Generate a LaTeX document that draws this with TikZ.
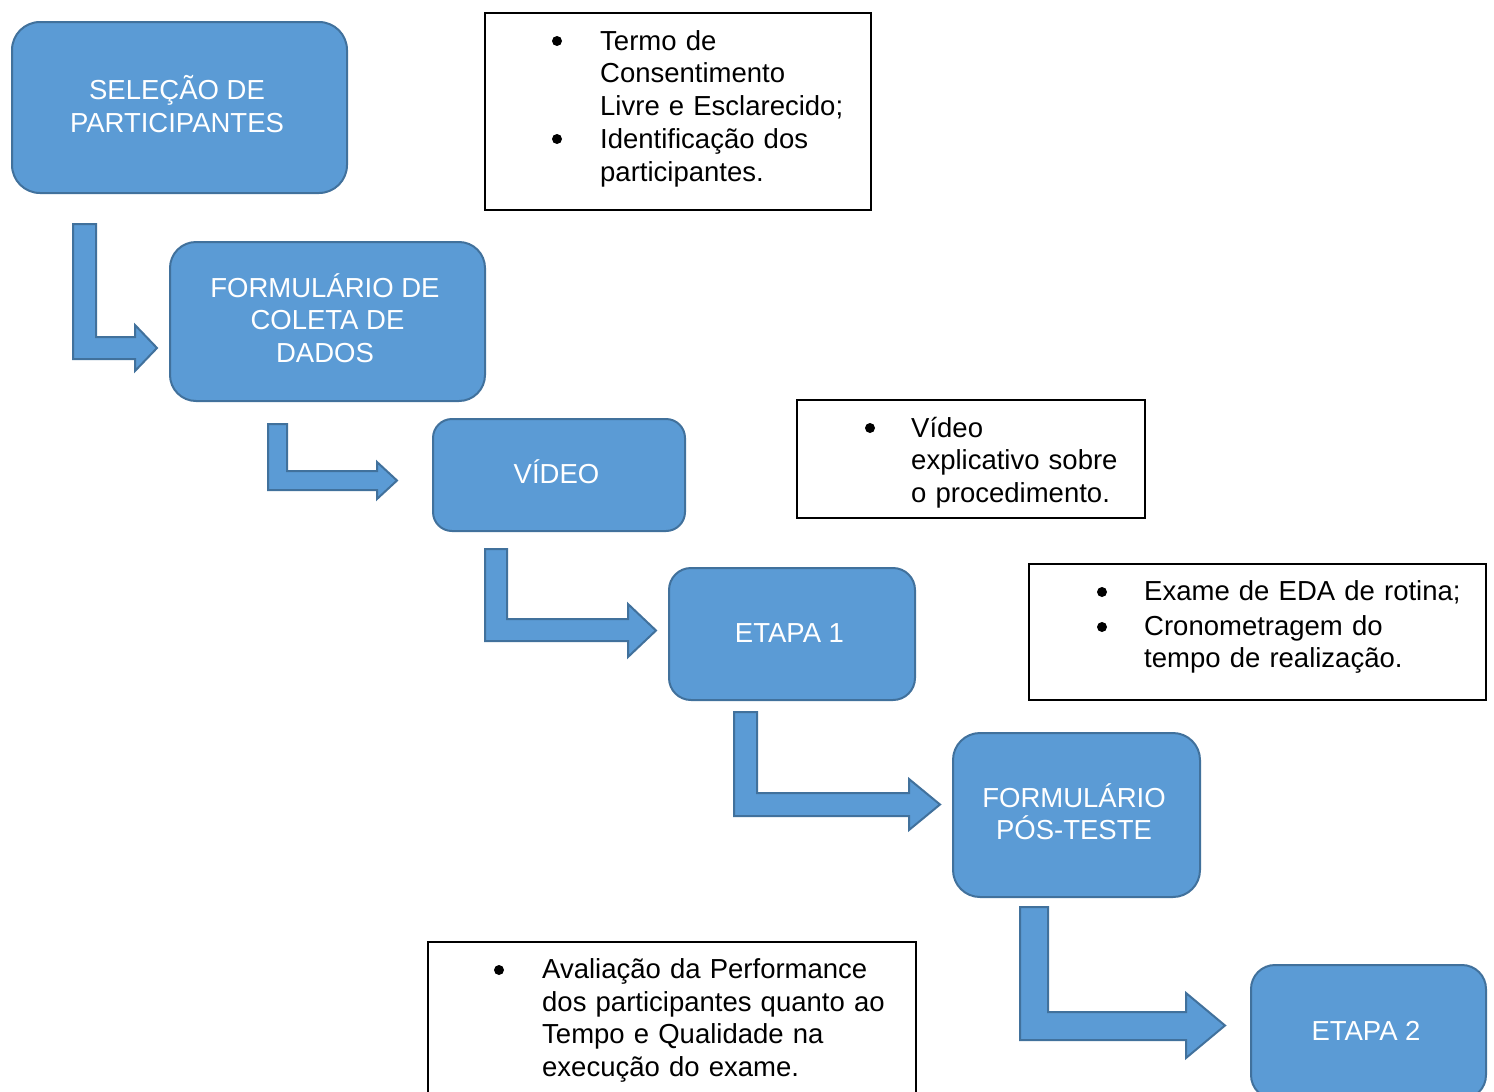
\documentclass[tikz,border=0pt]{standalone}
\usepackage{fontspec}
\setmainfont{Liberation Sans}
\definecolor{boxfill}{HTML}{5B9BD5}
\definecolor{boxline}{HTML}{41719C}
\tikzset{
  stage/.style={draw=boxline, fill=boxfill, line width=2pt, rounded corners=#1,
    text=white, align=center, inner sep=0pt, font=\fontsize{27.5}{32.5}\selectfont},
  stage/.default=26,
  notebox/.style={draw=black, line width=1.1pt, fill=white, inner sep=0pt},
  itemtext/.style={anchor=base west, inner sep=0pt, text width=420pt, align=left,
    font=\fontsize{27.5}{32.5}\selectfont},
  dot/.style={circle, fill=black, inner sep=0pt, minimum size=10pt},
  bent/.style={draw=boxline, fill=boxfill, line width=2pt, line join=miter},
}
% one line of text in a stage box, with Word-like line metrics
\newcommand\stline[1]{\rule[-7.75pt]{0pt}{32.4pt}#1\hspace*{5pt}}
% #1 xl, #2 xr, #3 ytop, #4 bar top, #5 bar bottom, #6 head base, #7 head top, #8 head bottom, #9 tip
\newcommand\bentarrowshape[9]{%
  \path[bent] (#1,#3) -- (#2,#3) -- (#2,#4) -- (#6,#4) -- (#6,#7)
    -- (#9,{(#7+#8)/2}) -- (#6,#8) -- (#6,#5) -- (#1,#5) -- cycle;}
\begin{document}
\begin{tikzpicture}[x=1pt,y=-1pt]
\useasboundingbox (0,0) rectangle (1494,1092);
\fill[white] (0,0) rectangle (1494,1092);

% stages
\node[stage=28, minimum width=335, minimum height=171] (s1) at (179.5,107.5) {\stline{SELEÇÃO DE}\\\stline{PARTICIPANTES}};
\node[stage=26, minimum width=315, minimum height=159] (s2) at (327.5,321.5) {\stline{FORMULÁRIO DE}\\\stline{COLETA DE}\\\stline{DADOS}};
\node[stage=19, minimum width=252, minimum height=112] (s3) at (559,475) {\stline{VÍDEO}};
\node[stage=22, minimum width=246, minimum height=132] (s4) at (792,634) {\stline{ETAPA 1}};
\node[stage=27, minimum width=247, minimum height=164] (s5) at (1076.5,815) {\stline{FORMULÁRIO}\\\stline{PÓS-TESTE}};
\node[stage=24, minimum width=235, minimum height=134] (s6) at (1368.5,1032) {\stline{ETAPA 2}};

% bent arrows
\bentarrowshape{73}{96}{224}{337}{359}{135}{325}{371}{157}
\bentarrowshape{268}{287}{424}{471}{490}{377}{462}{499}{397}
\bentarrowshape{485}{507}{549}{619}{641}{628}{604}{657}{656}
\bentarrowshape{734}{757}{712}{793}{816}{909}{779}{830}{940}
\bentarrowshape{1020}{1048}{907}{1012}{1040}{1186}{993}{1058}{1225}

% note 1
\node[notebox, minimum width=386, minimum height=197] (n1) at (678,111.5) {};
\node[dot] (n1d1) at (557,41) {};
\node[itemtext] (n1t1) at (600,50) {Termo de\\Consentimento\\Livre e Esclarecido;};
\node[dot] (n1d2) at (557,139) {};
\node[itemtext] (n1t2) at (600,148.5) {Identificação dos\\participantes.};

% note 2
\node[notebox, minimum width=348, minimum height=118] (n2) at (971,459) {};
\node[dot] (n2d1) at (870,428) {};
\node[itemtext] (n2t1) at (911,437) {Vídeo\\explicativo sobre\\o procedimento.};

% note 3
\node[notebox, minimum width=457, minimum height=136] (n3) at (1257.5,632) {};
\node[dot] (n3d1) at (1102,592) {};
\node[itemtext] (n3t1) at (1144,600.5) {Exame de EDA de rotina;};
\node[dot] (n3d2) at (1102,627) {};
\node[itemtext] (n3t2) at (1144,635) {Cronometragem do\\tempo de realização.};

% note 4
\node[notebox, minimum width=488, minimum height=160] (n4) at (672,1022) {};
\node[dot] (n4d1) at (499,970) {};
\node[itemtext] (n4t1) at (542,978.5) {Avaliação da Performance\\dos participantes quanto ao\\Tempo e Qualidade na\\execução do exame.};
\end{tikzpicture}
\end{document}
